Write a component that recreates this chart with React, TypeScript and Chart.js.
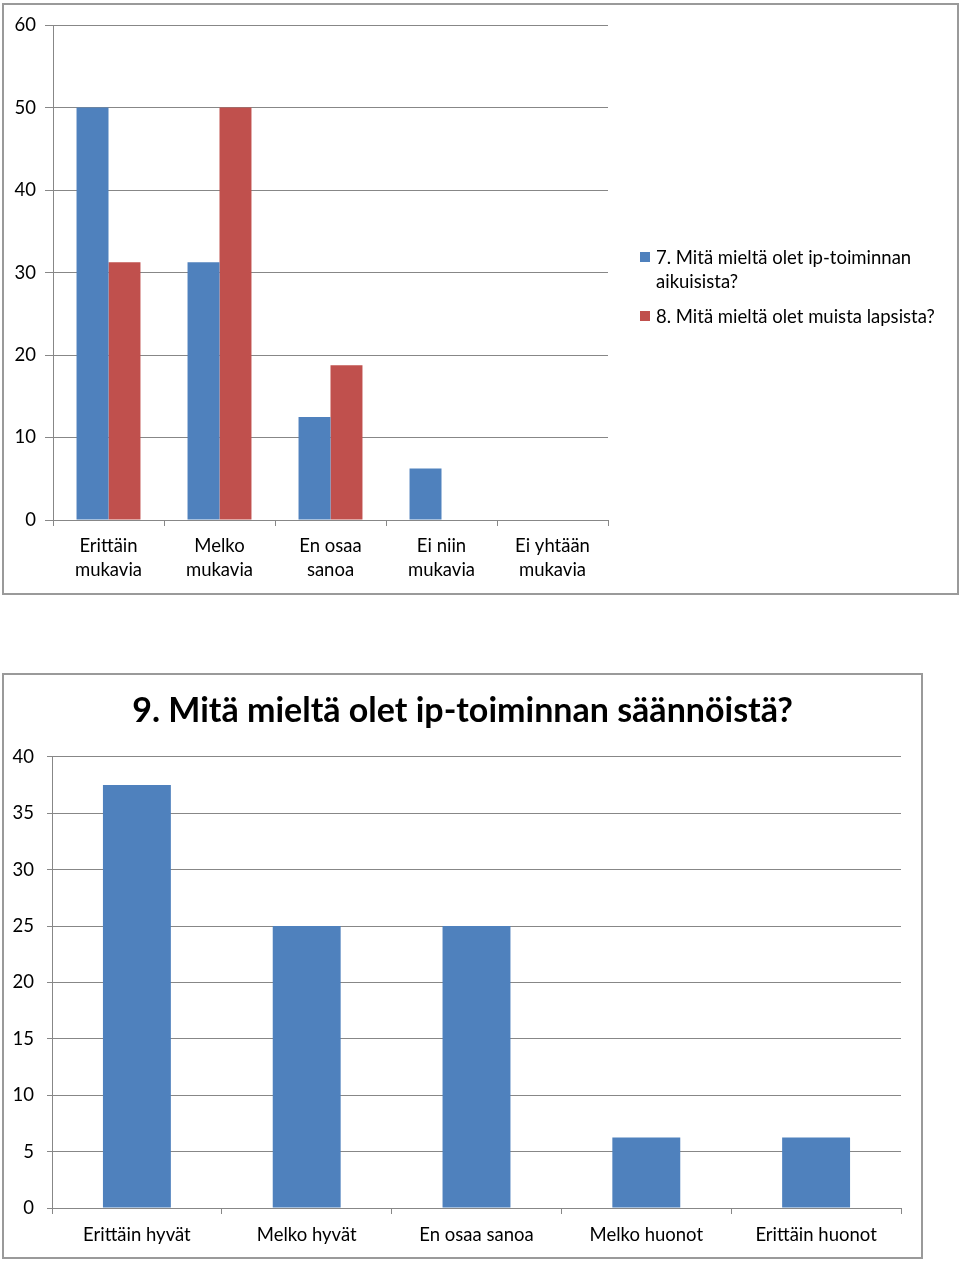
import React, { useEffect, useRef } from "react";
import { Chart, registerables } from "chart.js";

Chart.register(...registerables);

// ---- Data ----
const topCategories: string[][] = [
  ["Erittäin", "mukavia"],
  ["Melko", "mukavia"],
  ["En osaa", "sanoa"],
  ["Ei niin", "mukavia"],
  ["Ei yhtään", "mukavia"],
];
const series7Label = "7. Mitä mieltä olet ip-toiminnan aikuisista?";
const series7Values = [50, 31.25, 12.5, 6.25, 0];
const series8Label = "8. Mitä mieltä olet muista lapsista?";
const series8Values = [31.25, 50, 18.75, 0, 0];
const topMax = 60;
const topStep = 10;

const bottomTitle = "9. Mitä mieltä olet ip-toiminnan säännöistä?";
const bottomCategories = [
  "Erittäin hyvät",
  "Melko hyvät",
  "En osaa sanoa",
  "Melko huonot",
  "Erittäin huonot",
];
const bottomValues = [37.5, 25, 25, 6.25, 6.25];
const bottomMax = 40;
const bottomStep = 5;

const BLUE = "#4F81BD";
const RED = "#C0504D";
const GRID = "#878787";
const FONT = "Lato, 'Open Sans', sans-serif";
const FS = 18.5;

function TopChart() {
  const ref = useRef<HTMLCanvasElement>(null);
  useEffect(() => {
    if (!ref.current) return;
    const chart = new Chart(ref.current, {
      type: "bar",
      data: {
        labels: topCategories,
        datasets: [
          { label: series7Label, data: series7Values, backgroundColor: BLUE, borderWidth: 0 },
          { label: series8Label, data: series8Values, backgroundColor: RED, borderWidth: 0 },
        ],
      },
      options: {
        animation: false,
        responsive: false,
        layout: { padding: { top: 20, right: 349, bottom: 0, left: 0 } },
        plugins: { legend: { display: false }, tooltip: { enabled: false } },
        datasets: { bar: { categoryPercentage: 0.576, barPercentage: 1 } },
        scales: {
          x: {
            offset: true,
            grid: { offset: true, drawOnChartArea: false, drawTicks: true, tickLength: 6, color: GRID },
            border: { color: GRID, width: 1 },
            ticks: { color: "#000", font: { family: FONT, size: FS, lineHeight: 1.3 }, padding: 8, maxRotation: 0 },
            afterFit: (s: any) => { s.height = 73; },
          },
          y: {
            min: 0,
            max: topMax,
            grid: { color: GRID, tickLength: 8, drawTicks: true },
            border: { color: GRID, width: 1 },
            ticks: { stepSize: topStep, color: "#000", font: { family: FONT, size: FS }, padding: 9 },
            afterFit: (s: any) => { s.width = 49; },
          },
        },
      },
    });
    return () => chart.destroy();
  }, []);
  return <canvas ref={ref} width={953} height={588} style={{ position: "absolute", left: 0, top: 0, width: 953, height: 588 }} />;
}

function BottomChart() {
  const ref = useRef<HTMLCanvasElement>(null);
  useEffect(() => {
    if (!ref.current) return;
    const chart = new Chart(ref.current, {
      type: "bar",
      data: {
        labels: bottomCategories,
        datasets: [{ label: bottomTitle, data: bottomValues, backgroundColor: BLUE, borderWidth: 0 }],
      },
      options: {
        animation: false,
        responsive: false,
        layout: { padding: { top: 0, right: 0, bottom: 0, left: 0 } },
        plugins: {
          legend: { display: false },
          tooltip: { enabled: false },
          title: {
            display: true,
            text: bottomTitle,
            color: "#000",
            font: { family: FONT, size: 34, weight: "bold", lineHeight: 1.2 },
            padding: { top: 16, bottom: 25 },
          },
        },
        datasets: { bar: { categoryPercentage: 0.4, barPercentage: 1 } },
        scales: {
          x: {
            offset: true,
            grid: { offset: true, drawOnChartArea: false, drawTicks: true, tickLength: 6, color: GRID },
            border: { color: GRID, width: 1 },
            ticks: { color: "#000", font: { family: FONT, size: FS }, padding: 10, maxRotation: 0 },
            afterFit: (s: any) => { s.height = 49; },
          },
          y: {
            min: 0,
            max: bottomMax,
            grid: { color: GRID, tickLength: 5, drawTicks: true },
            border: { color: GRID, width: 1 },
            ticks: { stepSize: bottomStep, color: "#000", font: { family: FONT, size: FS }, padding: 13 },
            afterFit: (s: any) => { s.width = 48; },
          },
          yRight: {
            type: "linear",
            position: "right",
            display: true,
            min: 0,
            max: bottomMax,
            grid: { display: false, drawTicks: false },
            border: { display: false },
            ticks: { display: false },
            afterFit: (s: any) => { s.width = 20; },
          },
        },
      },
    });
    return () => chart.destroy();
  }, []);
  return <canvas ref={ref} width={917} height={582} style={{ position: "absolute", left: 0, top: 0, width: 917, height: 582 }} />;
}

const legendItems = [
  { label: series7Label, color: BLUE },
  { label: series8Label, color: RED },
];

export default function App() {
  return (
    <div style={{ fontFamily: FONT }}>
      <div
        style={{
          position: "absolute",
          left: 2,
          top: 3,
          width: 957,
          height: 592,
          boxSizing: "border-box",
          border: "2px solid #9a9a9a",
          background: "#fff",
        }}
      >
        <TopChart />
        <div style={{ position: "absolute", left: 636, top: 240, width: 300 }}>
          {legendItems.map((it, i) => (
            <div key={i} style={{ display: "flex", alignItems: "flex-start", marginBottom: 11, fontSize: FS, lineHeight: "24px", color: "#000" }}>
              <span style={{ display: "inline-block", width: 10, height: 10, background: it.color, marginTop: 7, marginRight: 6, flex: "0 0 auto" }} />
              <span>{it.label}</span>
            </div>
          ))}
        </div>
      </div>
      <div
        style={{
          position: "absolute",
          left: 2,
          top: 673,
          width: 921,
          height: 586,
          boxSizing: "border-box",
          border: "2px solid #9a9a9a",
          background: "#fff",
        }}
      >
        <BottomChart />
      </div>
    </div>
  );
}
